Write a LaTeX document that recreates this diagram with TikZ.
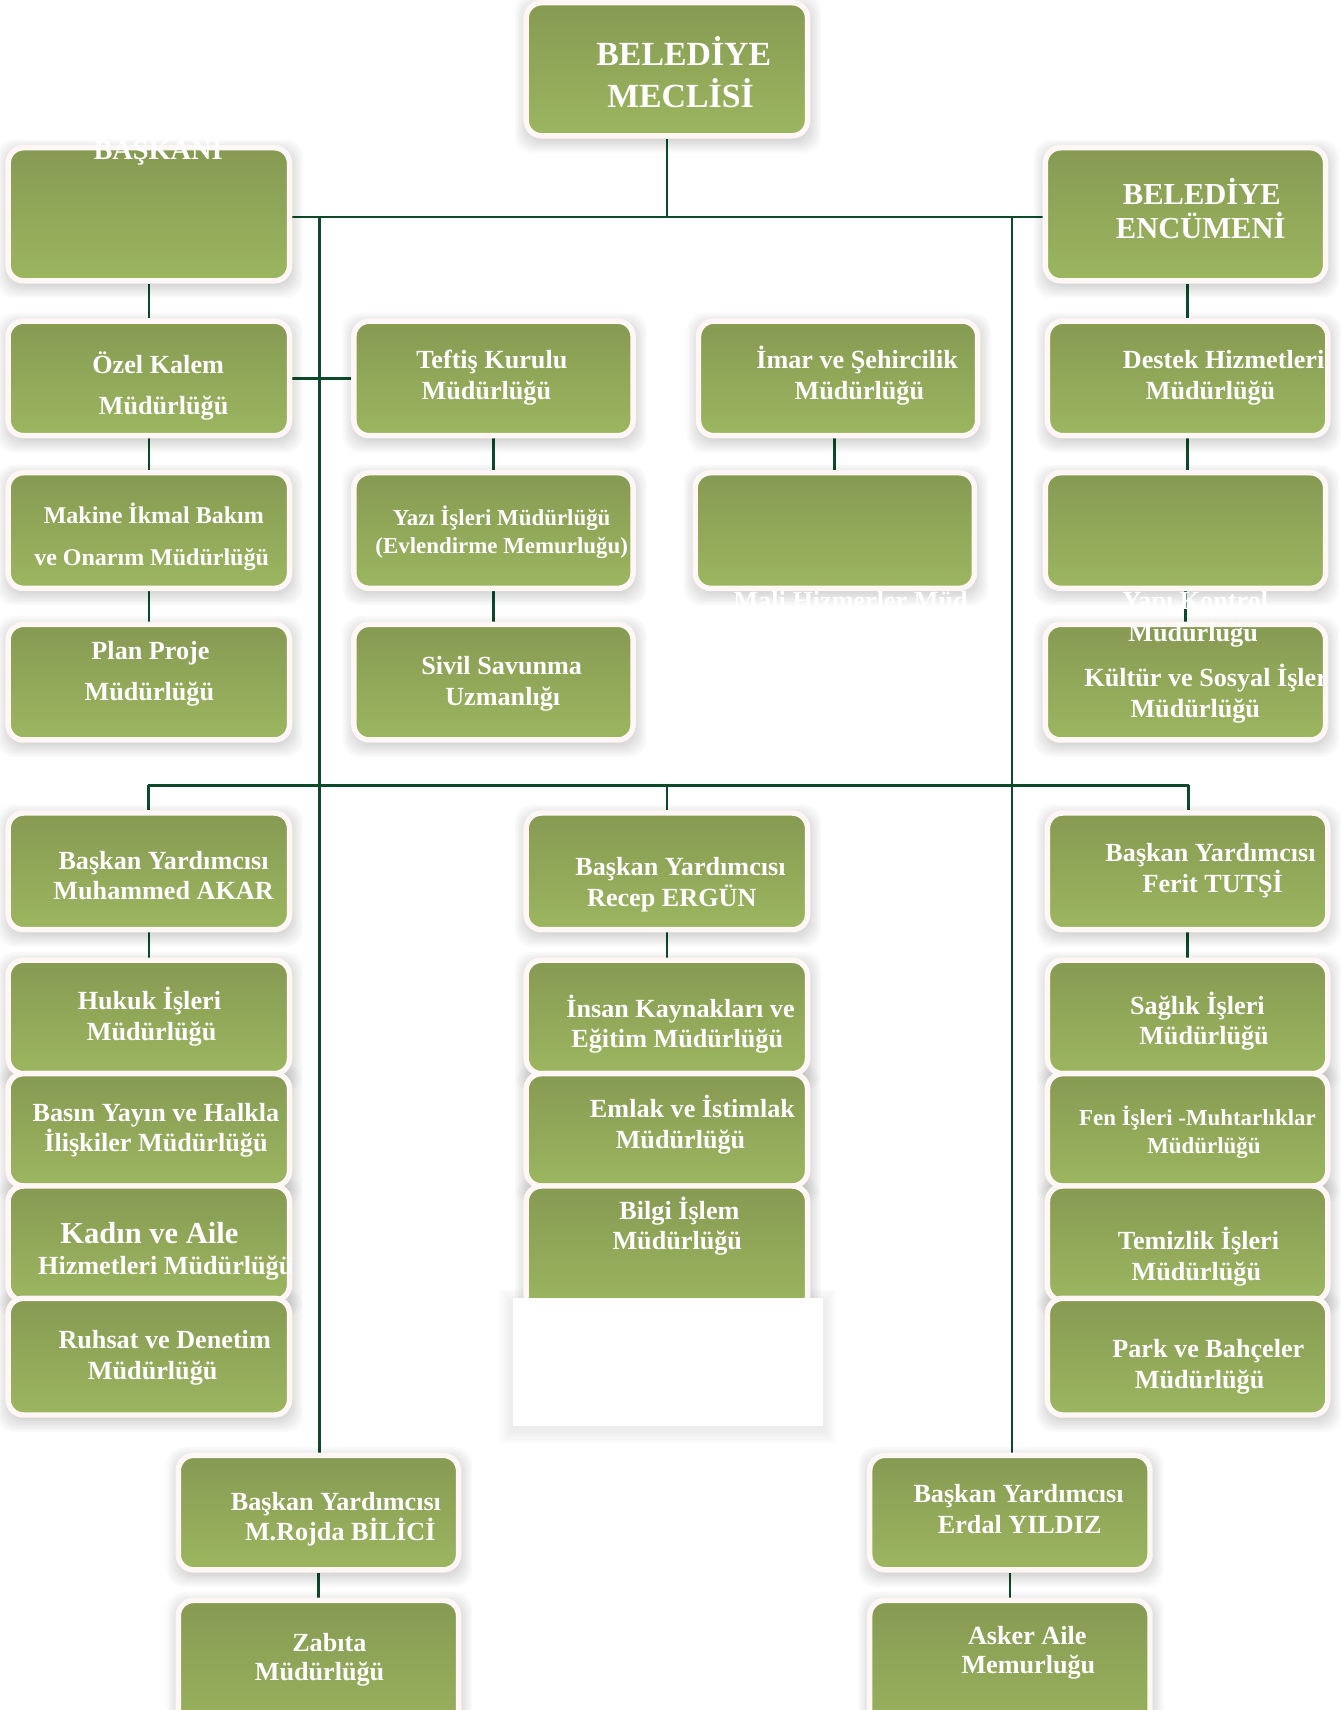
\documentclass[tikz,border=0pt]{standalone}
\usepackage{fontspec}
\setmainfont{Liberation Serif}
\usetikzlibrary{backgrounds}
\pgfdeclarelayer{shadowlayer}
\pgfsetlayers{background,shadowlayer,main}
\definecolor{gtop}{HTML}{869A52}
\definecolor{gbot}{HTML}{9CB660}
\definecolor{bborder}{HTML}{FFF7F5}
\definecolor{conncol}{HTML}{0D4A2C}
\tikzset{
  obox/.style={rectangle, rounded corners=14pt, draw=bborder, line width=5pt,
    top color=gtop, bottom color=gbot, inner sep=0pt},
  wbox/.style={rectangle, fill=white, draw=none, inner sep=0pt},
  softshadow/.style={fill=black, fill opacity=0.022, rounded corners=16pt},
  otx/.style={text=white, inner sep=0pt, anchor=base},
  conn/.style={draw=conncol, line width=2.5pt}
}
\newcommand\mkshadow[4]{%
  \begin{pgfonlayer}{shadowlayer}
  \foreach \k in {1,...,7}{\path[softshadow] ({#1-2*\k+1},{#2-2*\k+4}) rectangle ({#3+2*\k+1},{#4+2*\k+4});}
  \end{pgfonlayer}}
\newcommand\obox[5]{\mkshadow{#2}{#3}{#4}{#5}%
  \node[obox, minimum width={#4-#2+5}, minimum height={#5-#3+5}] (#1) at ({(#2+#4)/2},{(#3+#5)/2}) {};}
\newcommand\otx[5]{\node[otx, font=\bfseries\fontsize{#4}{#4}\selectfont] (#1) at ({#2},{#3+0.33*#4}) {#5};}
\begin{document}
\begin{tikzpicture}[x=1pt, y=-1pt]
\path[use as bounding box] (0,0) rectangle (1229,1568);
\clip (0,0) rectangle (1229,1568);
% boxes
\obox{meclis}{485}{5}{738}{122}
\obox{baskani}{10}{138}{263}{255}
\obox{encumeni}{961}{138}{1213}{255}
\obox{ozel}{10}{297}{263}{397}
\obox{teftis}{327}{297}{578}{397}
\obox{imar}{643}{297}{894}{397}
\obox{destek}{963}{297}{1215}{397}
\obox{makine}{10}{436}{263}{537}
\obox{yazi}{327}{436}{578}{537}
\obox{mali}{640}{436}{891}{537}
\obox{yapi}{961}{436}{1213}{537}
\obox{plan}{10}{575}{263}{676}
\obox{sivil}{327}{575}{578}{676}
\obox{kultur}{961}{575}{1213}{676}
\obox{byone}{10}{748}{263}{850}
\obox{bytwo}{485}{748}{738}{850}
\obox{bythree}{963}{748}{1215}{850}
\obox{hukuk}{10}{883}{263}{982}
\obox{insan}{485}{883}{738}{982}
\obox{saglik}{963}{883}{1215}{982}
\obox{basin}{10}{987}{263}{1085}
\obox{emlak}{485}{987}{738}{1085}
\obox{fen}{963}{987}{1215}{1085}
\obox{kadin}{10}{1090}{263}{1190}
\obox{bilgi}{485}{1090}{738}{1200}
\obox{temizlik}{963}{1090}{1215}{1190}
\obox{ruhsat}{10}{1193}{263}{1295}
\obox{park}{963}{1193}{1215}{1295}
\obox{rojda}{166}{1337}{418}{1437}
\obox{erdal}{800}{1337}{1052}{1437}
\obox{zabita}{166}{1470}{418}{1600}
\obox{asker}{800}{1470}{1052}{1600}
\begin{pgfonlayer}{shadowlayer}
\foreach \k in {1,...,6}{\path[fill=black, fill opacity=0.012] ({470-2*\k},{1190-2*\k+4}) rectangle ({755+2*\k},{1308+2*\k+4});}
\end{pgfonlayer}
\node[wbox, minimum width=285, minimum height=118] (cover) at (612.5,1249) {};
\coordinate (hL) at (293,199);
\coordinate (hR) at (928,199);
\coordinate (bL) at (136,720);
\coordinate (bR) at (1090,720);
% text
\otx{meclisa}{627}{50}{31}{BELEDİYE}
\otx{meclisb}{624}{88}{31}{MECLİSİ}
\otx{baskania}{145}{138}{26}{BAŞKANI}
\otx{encumenia}{1102}{178}{28}{BELEDİYE}
\otx{encumenib}{1101}{209}{28}{ENCÜMENİ}
\otx{ozela}{145}{335}{24}{Özel Kalem}
\otx{ozelb}{150}{372}{24}{Müdürlüğü}
\otx{teftisa}{451}{330}{24}{Teftiş Kurulu}
\otx{teftisb}{446}{358}{24}{Müdürlüğü}
\otx{imara}{786}{330}{24}{İmar ve Şehircilik}
\otx{imarb}{788}{358}{24}{Müdürlüğü}
\otx{desteka}{1122}{330}{24}{Destek Hizmetleri}
\otx{destekb}{1110}{358}{24}{Müdürlüğü}
\otx{makinea}{141}{473}{22}{Makine İkmal Bakım}
\otx{makineb}{139}{511}{22}{ve Onarım Müdürlüğü}
\otx{yazia}{460}{475}{21}{Yazı İşleri Müdürlüğü}
\otx{yazib}{460}{501}{21}{(Evlendirme Memurluğu)}
\otx{malia}{783}{551}{24}{Mali Hizmerler Müd.}
\otx{yapia}{1096}{551}{24}{Yapı Kontrol}
\otx{yapib}{1094}{580}{24}{Müdürlüğü}
\otx{plana}{138}{597}{24}{Plan Proje}
\otx{planb}{137}{634}{24}{Müdürlüğü}
\otx{sivila}{460}{611}{24}{Sivil Savunma}
\otx{sivilb}{461}{639}{24}{Uzmanlığı}
\otx{kultura}{1106}{622}{24}{Kültür ve Sosyal İşler}
\otx{kulturb}{1096}{650}{24}{Müdürlüğü}
\otx{byonea}{150}{789}{24}{Başkan Yardımcısı}
\otx{byoneb}{150}{817}{24}{Muhammed AKAR}
\otx{bytwoa}{624}{795}{24}{Başkan Yardımcısı}
\otx{bytwob}{616}{823}{24}{Recep ERGÜN}
\otx{bythreea}{1110}{782}{24}{Başkan Yardımcısı}
\otx{bythreeb}{1112}{810}{24}{Ferit TUTŞİ}
\otx{hukuka}{137}{918}{24}{Hukuk İşleri}
\otx{hukukb}{139}{946}{24}{Müdürlüğü}
\otx{insana}{624}{925}{24}{İnsan Kaynakları ve}
\otx{insanb}{621}{953}{24}{Eğitim Müdürlüğü}
\otx{saglika}{1098}{922}{24}{Sağlık İşleri}
\otx{saglikb}{1104}{950}{24}{Müdürlüğü}
\otx{basina}{143}{1020}{24}{Basın Yayın ve Halkla}
\otx{basinb}{143}{1048}{24}{İlişkiler Müdürlüğü}
\otx{emlaka}{635}{1017}{24}{Emlak ve İstimlak}
\otx{emlakb}{624}{1045}{24}{Müdürlüğü}
\otx{fena}{1098}{1025}{21}{Fen İşleri -Muhtarlıklar}
\otx{fenb}{1104}{1051}{21}{Müdürlüğü}
\otx{kadina}{137}{1131}{28}{Kadın ve Aile}
\otx{kadinb}{152}{1161}{24}{Hizmetleri Müdürlüğü}
\otx{bilgia}{623}{1110}{24}{Bilgi İşlem}
\otx{bilgib}{621}{1138}{24}{Müdürlüğü}
\otx{temizlika}{1099}{1138}{24}{Temizlik İşleri}
\otx{temizlikb}{1097}{1166}{24}{Müdürlüğü}
\otx{ruhsata}{151}{1229}{24}{Ruhsat ve Denetim}
\otx{ruhsatb}{140}{1257}{24}{Müdürlüğü}
\otx{parka}{1108}{1237}{24}{Park ve Bahçeler}
\otx{parkb}{1100}{1265}{24}{Müdürlüğü}
\otx{rojdaa}{308}{1377}{24}{Başkan Yardımcısı}
\otx{rojdab}{312}{1405}{24}{M.Rojda BİLİCİ}
\otx{erdala}{934}{1370}{24}{Başkan Yardımcısı}
\otx{erdalb}{935}{1398}{24}{Erdal YILDIZ}
\otx{zabitaa}{302}{1506}{24}{Zabıta}
\otx{zabitab}{293}{1533}{24}{Müdürlüğü}
\otx{askera}{942}{1500}{24}{Asker Aile}
\otx{askerb}{943}{1527}{24}{Memurluğu}
% connectors behind boxes
\begin{pgfonlayer}{background}
\fill[white] (0,0) rectangle (1229,1568);
\draw[conn] (baskani.east |- hL) -- (encumeni.west |- hR);
\draw[conn] (meclis.south) -- (meclis.south |- hL);
\draw[conn] (hL) -- (hL |- rojda.north);
\draw[conn] (hR) -- (hR |- erdal.north);
\draw[conn] (ozel.east) -- (teftis.west);
\draw[conn] (baskani.south) -- (ozel.north);
\draw[conn] (ozel.south) -- (makine.north);
\draw[conn] (makine.south) -- (plan.north);
\draw[conn] (teftis.south) -- (yazi.north);
\draw[conn] (yazi.south) -- (sivil.north);
\draw[conn] (mali.north) -- (mali.north |- imar.south);
\draw[conn] (destek.north) -- (destek.north |- encumeni.south);
\draw[conn] (destek.south) -- (destek.south |- yapi.north);
\draw[conn] (yapi.south) -- (yapi.south |- kultur.north);
\draw[conn] (bL) -- (bR);
\draw[conn] (bL) -- (bL |- byone.north);
\draw[conn] (bytwo.north |- bL) -- (bytwo.north);
\draw[conn] (bR) -- (bR |- bythree.north);
\draw[conn] (byone.south) -- (hukuk.north);
\draw[conn] (bytwo.south) -- (insan.north);
\draw[conn] (bythree.south) -- (saglik.north);
\draw[conn] (rojda.south) -- (zabita.north);
\draw[conn] (erdal.south) -- (asker.north);
\end{pgfonlayer}
\end{tikzpicture}
\end{document}
